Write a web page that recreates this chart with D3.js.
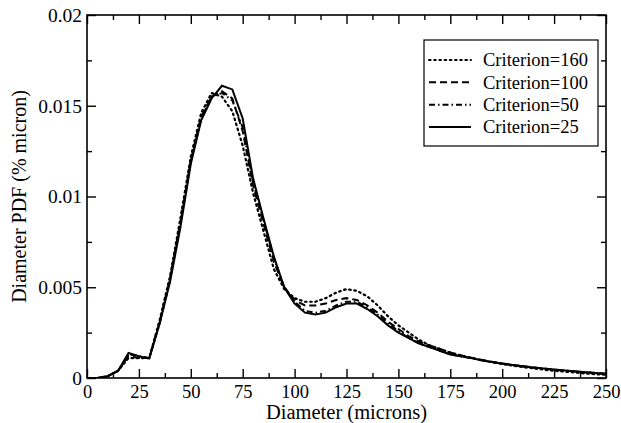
<!DOCTYPE html>
<html>
<head>
<meta charset="utf-8">
<title>Diameter PDF</title>
<script src="https://cdn.jsdelivr.net/npm/d3@7"></script>
<style>
  body { margin: 0; background: #fff; }
  text { font-family: "Liberation Serif", "Times New Roman", serif; fill: #000; }
</style>
</head>
<body>
<script>

// diameters (microns), one value every 5 microns
var diameters = d3.range(0, 251, 5);

var crit160 = [0, 0, 0.0001, 0.0004, 0.0011, 0.0011, 0.0011, 0.0032, 0.0056, 0.0088,
  0.0122, 0.0146, 0.0157, 0.0155, 0.0147, 0.0128, 0.0102, 0.0081, 0.0060, 0.0049,
  0.0044, 0.0042, 0.0042, 0.0044, 0.0047, 0.0049, 0.0048, 0.0045, 0.0040, 0.0034,
  0.0029, 0.0025, 0.0021, 0.0018, 0.0016, 0.0014, 0.00125, 0.0011, 0.00098, 0.00087,
  0.00077, 0.00068, 0.0006, 0.00053, 0.00046, 0.0004, 0.00035, 0.0003, 0.00025, 0.00021, 0.00018];

var crit100 = [0, 0, 0.0001, 0.0004, 0.0012, 0.0011, 0.0011, 0.0031, 0.0055, 0.0086,
  0.0120, 0.0144, 0.0155, 0.0158, 0.0154, 0.0136, 0.0106, 0.0085, 0.0064, 0.0050,
  0.0043, 0.0040, 0.0040, 0.0041, 0.0043, 0.0044, 0.0043, 0.0040, 0.0036, 0.0031,
  0.0027, 0.0023, 0.0020, 0.0018, 0.0016, 0.0014, 0.00125, 0.00112, 0.001, 0.0009,
  0.0008, 0.00072, 0.00065, 0.00058, 0.00052, 0.00046, 0.00041, 0.00036, 0.00031, 0.00027, 0.00023];

var crit50 = [0, 0, 0.0001, 0.0004, 0.0013, 0.0012, 0.0011, 0.0030, 0.0054, 0.0085,
  0.0119, 0.0143, 0.0155, 0.0157, 0.0153, 0.0138, 0.0108, 0.0087, 0.0066, 0.0050,
  0.0042, 0.0037, 0.0036, 0.0037, 0.0040, 0.0042, 0.0042, 0.0039, 0.0035, 0.0030,
  0.0026, 0.0022, 0.0019, 0.0017, 0.0015, 0.0013, 0.0012, 0.0011, 0.00098, 0.00088,
  0.00079, 0.00071, 0.00064, 0.00057, 0.00051, 0.00046, 0.00041, 0.00036, 0.00031, 0.00027, 0.00023];

var crit25 = [0, 0, 0.0001, 0.0004, 0.00138, 0.0012, 0.00108, 0.0030, 0.0053, 0.0083,
  0.0118, 0.0142, 0.0154, 0.0161, 0.0159, 0.0143, 0.0110, 0.0088, 0.0067, 0.0050,
  0.0041, 0.0036, 0.0035, 0.0036, 0.0039, 0.0041, 0.0041, 0.0038, 0.0034, 0.0029,
  0.0025, 0.0022, 0.0019, 0.0017, 0.0015, 0.0013, 0.0012, 0.0011, 0.00098, 0.00088,
  0.0008, 0.00072, 0.00065, 0.00058, 0.00052, 0.00047, 0.00042, 0.00037, 0.00032, 0.00028, 0.00024];

var seriesNames = ['Criterion=160', 'Criterion=100', 'Criterion=50', 'Criterion=25'];
var seriesValues = [crit160, crit100, crit50, crit25];
var seriesDash = ['1.6,3.6', '7,4', '6,3,1.5,3', null];

var xTicks = d3.range(0, 251, 25);
var xMinor = d3.range(12.5, 250, 25);
var yTicks = [0, 0.005, 0.01, 0.015, 0.02];
var yMinor = [0.0025, 0.0075, 0.0125, 0.0175];

var width = 621, height = 423;
var pad = { left: 87, right: 606, top: 15, bottom: 378 };

var svg = d3.select('body').append('svg').attr('width', width).attr('height', height);
svg.append('rect').attr('width', width).attr('height', height).attr('fill', '#fff');

var x = d3.scaleLinear().domain([0, 250]).range([pad.left, pad.right]);
var y = d3.scaleLinear().domain([0, 0.02]).range([pad.bottom, pad.top]);

function yfmt(d) { return d === 0 ? '0' : String(d); }

// ticks point inward on all four sides
function drawAxis(axis, tx, ty, size, labels) {
  var g = svg.append('g').attr('transform', 'translate(' + tx + ',' + ty + ')').call(axis.tickSizeInner(-size).tickSizeOuter(0));
  g.select('.domain').remove();
  g.selectAll('line').attr('stroke', '#000').attr('stroke-width', 1.4);
  if (!labels) g.selectAll('text').remove();
  return g;
}

var gx = drawAxis(d3.axisBottom(x).tickValues(xTicks).tickPadding(7), 0, pad.bottom, 9, true);
gx.selectAll('text').attr('font-size', 18.5);
drawAxis(d3.axisBottom(x).tickValues(xMinor), 0, pad.bottom, 5, false);
drawAxis(d3.axisTop(x).tickValues(xTicks), 0, pad.top, 9, false);
drawAxis(d3.axisTop(x).tickValues(xMinor), 0, pad.top, 5, false);

var gy = drawAxis(d3.axisLeft(y).tickValues(yTicks).tickFormat(yfmt).tickPadding(5), pad.left, 0, 9, true);
gy.selectAll('text').attr('font-size', 19.5);
drawAxis(d3.axisLeft(y).tickValues(yMinor), pad.left, 0, 5, false);
drawAxis(d3.axisRight(y).tickValues(yTicks), pad.right, 0, 9, false);
drawAxis(d3.axisRight(y).tickValues(yMinor), pad.right, 0, 5, false);

var line = d3.line()
  .x(function(d) { return x(d[0]); })
  .y(function(d) { return y(d[1]); });

svg.append('clipPath').attr('id', 'plot')
  .append('rect').attr('x', pad.left).attr('y', pad.top)
  .attr('width', pad.right - pad.left).attr('height', pad.bottom - pad.top);

seriesValues.forEach(function(vals, i) {
  var pts = diameters.map(function(d, j) { return [d, vals[j]]; });
  svg.append('path')
    .attr('d', line(pts))
    .attr('clip-path', 'url(#plot)')
    .attr('fill', 'none')
    .attr('stroke', '#000')
    .attr('stroke-width', i === 0 ? 2.2 : 2)
    .attr('stroke-linecap', i === 0 ? 'round' : 'butt')
    .attr('stroke-dasharray', seriesDash[i]);
});

// frame
svg.append('rect')
  .attr('x', pad.left).attr('y', pad.top)
  .attr('width', pad.right - pad.left).attr('height', pad.bottom - pad.top)
  .attr('fill', 'none').attr('stroke', '#000').attr('stroke-width', 1.6);

// axis titles
svg.append('text')
  .attr('x', (pad.left + pad.right) / 2).attr('y', 419)
  .attr('text-anchor', 'middle').attr('font-size', 20.5)
  .text('Diameter (microns)');

svg.append('text')
  .attr('transform', 'translate(26,' + ((pad.top + pad.bottom) / 2) + ') rotate(-90)')
  .attr('text-anchor', 'middle').attr('font-size', 20)
  .text('Diameter PDF (% micron)');

// legend
var lg = svg.append('g');
lg.append('rect').attr('x', 424).attr('y', 40).attr('width', 174).attr('height', 106)
  .attr('fill', '#fff').attr('stroke', '#000').attr('stroke-width', 1.2);
var rowY = d3.scalePoint().domain(seriesNames).range([60, 127]);
seriesNames.forEach(function(name, i) {
  lg.append('line')
    .attr('x1', 429).attr('x2', 471).attr('y1', rowY(name)).attr('y2', rowY(name))
    .attr('stroke', '#000').attr('stroke-width', 2)
    .attr('stroke-linecap', i === 0 ? 'round' : 'butt')
    .attr('stroke-dasharray', seriesDash[i]);
  lg.append('text')
    .attr('x', 483).attr('y', rowY(name)).attr('dy', '0.35em')
    .attr('font-size', 18.5)
    .text(name);
});

</script>
</body>
</html>
